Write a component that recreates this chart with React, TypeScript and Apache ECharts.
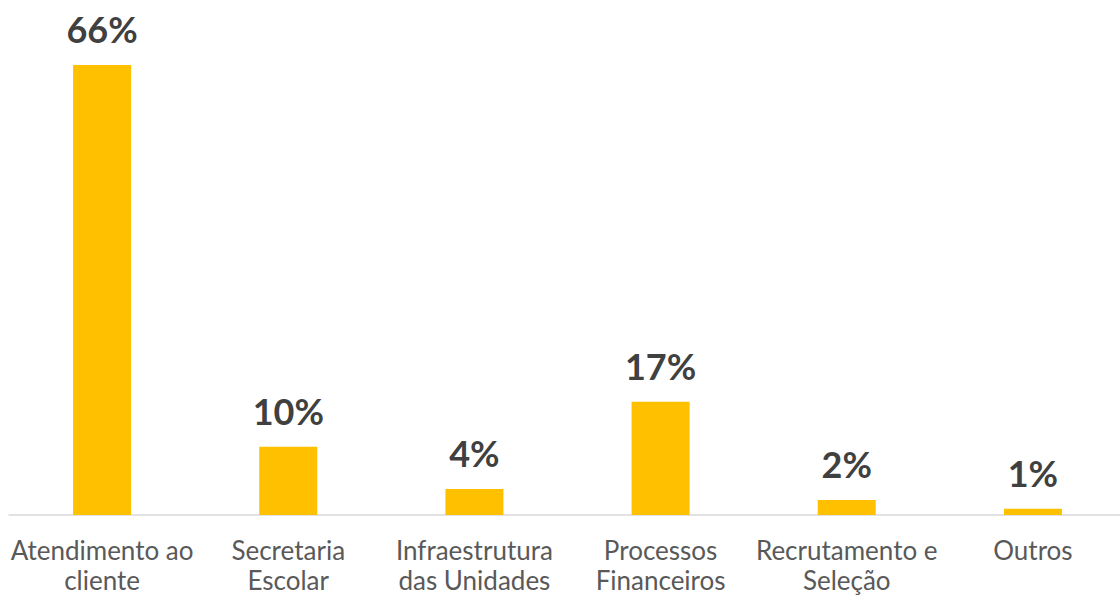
import React, { useEffect, useRef } from "react";
import * as echarts from "echarts";

const categories = [
  "Atendimento ao\ncliente",
  "Secretaria\nEscolar",
  "Infraestrutura\ndas Unidades",
  "Processos\nFinanceiros",
  "Recrutamento e\nSeleção",
  "Outros",
];
const values = [66, 10, 3.8, 16.6, 2.2, 0.9];
const labels = ["66%", "10%", "4%", "17%", "2%", "1%"];

export default function App() {
  const ref = useRef<HTMLDivElement>(null);
  useEffect(() => {
    if (!ref.current) return;
    const chart = echarts.init(ref.current, null, { renderer: "svg" });
    chart.setOption({
      animation: false,
      grid: { left: 9, right: 0, top: 65, bottom: 81, containLabel: false, outerBoundsMode: "none" },
      xAxis: {
        type: "category",
        data: categories,
        axisLine: { lineStyle: { color: "#d9d9d9", width: 1.5 } },
        axisTick: { show: false },
        axisLabel: {
          interval: 0,
          color: "#595959",
          fontFamily: "Lato",
          fontSize: 26,
          lineHeight: 30,
          margin: 20,
        },
      },
      yAxis: {
        type: "value",
        min: 0,
        max: 66,
        show: false,
        splitLine: { show: false },
      },
      series: [
        {
          type: "bar",
          data: values,
          barWidth: 58,
          itemStyle: { color: "#ffc000" },
          label: {
            show: true,
            position: "top",
            distance: 18,
            color: "#404040",
            fontFamily: "Lato",
            fontWeight: "bold",
            fontSize: 36,
            formatter: (p: any) => labels[p.dataIndex],
          },
        },
      ],
    });
    return () => chart.dispose();
  }, []);
  return (
    <div style={{ position: "fixed", left: 0, top: 0, width: 1120, height: 596, overflow: "hidden", background: "#fff" }}>
      <div ref={ref} style={{ position: "absolute", left: 0, top: 0, width: 1126, height: 596 }} />
    </div>
  );
}
